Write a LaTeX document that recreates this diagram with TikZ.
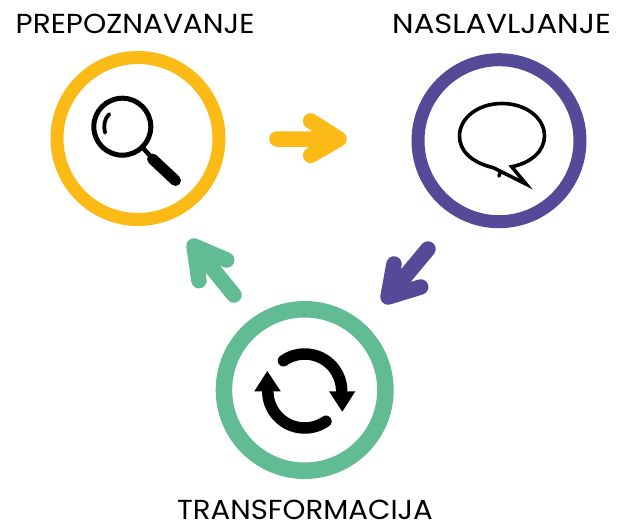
\documentclass[tikz,border=0pt]{standalone}
\usepackage{fontspec}
\setmainfont{Poppins}
\newfontfamily\lblA{Poppins}[FakeStretch=1.075]
\newfontfamily\lblB{Poppins}[FakeStretch=1.115]
\newfontfamily\lblC{Poppins}[FakeStretch=1.06]
\definecolor{ylw}{HTML}{FCBA17}
\definecolor{prp}{HTML}{544A97}
\definecolor{grn}{HTML}{62BC93}
\tikzset{
  ring/.style={circle,draw=#1,fill=white,inner sep=0pt},
  arrowline/.style={draw=#1,line width=15.5pt,line cap=round,line join=round},
  lbl/.style={anchor=base west,inner sep=0pt,text=black},
  icon/.style={draw=black,line cap=round,line join=round}
}
\begin{document}
\begin{tikzpicture}[x=1pt,y=1pt,yscale=-1]
\useasboundingbox (0,0) rectangle (625,522);
\node[lbl,font=\lblA\fontsize{27.5pt}{30pt}\selectfont] (l1) at (15.5,33) {PREPOZNAVANJE};
\node[lbl,font=\lblB\fontsize{27.5pt}{30pt}\selectfont] (l2) at (392,33) {NASLAVLJANJE};
\node[lbl,font=\lblC\fontsize{27.5pt}{30pt}\selectfont] (l3) at (177,519.5) {TRANSFORMACIJA};
\node[ring=ylw,minimum size=162pt,line width=13pt] (a) at (138,138.5) {};
\node[ring=prp,minimum size=162pt,line width=13pt] (b) at (499,140.7) {};
\node[ring=grn,minimum size=161.5pt,line width=16.5pt] (c) at (304.7,390) {};
% arrows
\coordinate (a1) at (277,139); \coordinate (a2) at (339,139);
\coordinate (a3) at (310.7,121); \coordinate (a4) at (310.7,155.3);
\draw[arrowline=ylw] (a1) -- (a2) (a3) -- (a2) -- (a4);
\coordinate (b1) at (428,249); \coordinate (b2) at (388,297);
\coordinate (b3) at (394,264); \coordinate (b4) at (420.7,287);
\draw[arrowline=prp] (b1) -- (b2) (b3) -- (b2) -- (b4);
\coordinate (c1) at (234,295); \coordinate (c2) at (194,246);
\coordinate (c3) at (199,280.7); \coordinate (c4) at (226.7,260);
\draw[arrowline=grn] (c1) -- (c2) (c3) -- (c2) -- (c4);
% magnifier
\draw[icon,line width=5pt] (122.3,126.7) circle (28.5pt);
\draw[icon,line width=3.8pt] (109.3,114) .. controls (104,119) and (103.5,126) .. (105,132.7);
\draw[icon,line width=4.5pt] (143,148) -- (152,158);
\draw[icon,line width=11pt] (152.5,159) -- (175.5,180.5);
% bubble
\draw[icon,line width=3.6pt,miter limit=10,line join=miter]
  (493.3,167.7) .. controls (470,162) and (459.5,150) .. (459.5,136)
  .. controls (459.5,118) and (478,103.5) .. (502,103.5)
  .. controls (526,103.5) and (544.5,118) .. (544.5,136)
  .. controls (544.5,151) and (531,163) .. (511.7,166.7)
  -- (526,184) -- cycle;
\draw[icon,line width=3.6pt] (500,173) -- (499,176);
% refresh
\coordinate (r) at (304.7,391);
\draw[icon,line width=11.5pt] (r) ++(-125:37pt) arc[start angle=-125,end angle=-2,radius=37pt];
\draw[icon,line width=11.5pt] (r) ++(55:37pt) arc[start angle=55,end angle=178,radius=37pt];
\fill (329,391.3) -- (355.3,391.3) -- (342.3,411.7) -- cycle;
\fill (254.3,391.3) -- (280.7,391.3) -- (267.3,371) -- cycle;
\end{tikzpicture}
\end{document}
